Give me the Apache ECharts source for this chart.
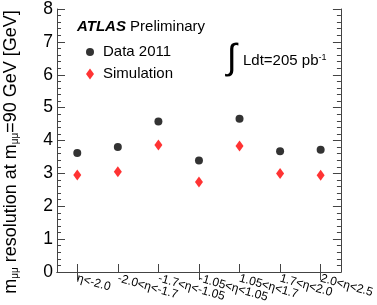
<!DOCTYPE html>
<html>
<head>
<meta charset="utf-8">
<script src="https://cdn.jsdelivr.net/npm/echarts@6/dist/echarts.min.js"></script>
<style>html,body{margin:0;padding:0;background:#fff}#c{width:377px;height:305px}</style>
</head>
<body>
<div id="c"></div>
<script>
const categories = ['η<-2.0', '-2.0<η<-1.7', '-1.7<η<-1.05', '-1.05<η<1.05', '1.05<η<1.7', '1.7<η<2.0', '2.0<η<2.5'];
const dataValues = [3.62, 3.80, 4.58, 3.39, 4.66, 3.67, 3.72];
const simValues = [2.95, 3.05, 3.86, 2.74, 3.83, 3.00, 2.94];
const yTicks = [0, 1, 2, 3, 4, 5, 6, 7, 8];

const FONT = 'Liberation Sans';
const chart = echarts.init(document.getElementById('c'), null, {renderer: 'canvas'});
const axisColor = '#444';
const baseY = {
  type: 'value', min: yTicks[0], max: yTicks[yTicks.length - 1], interval: 1,
  axisLine: {show: true, lineStyle: {color: axisColor, width: 1}},
  axisTick: {show: true, inside: true, length: 8, lineStyle: {color: axisColor}},
  minorTick: {show: true, splitNumber: 5, length: 4, lineStyle: {color: axisColor}},
  splitLine: {show: false}
};
const baseX = {
  type: 'category', data: categories, boundaryGap: true,
  axisLine: {show: true, lineStyle: {color: axisColor, width: 1}},
  axisTick: {show: true, inside: true, length: 8, alignWithLabel: true, lineStyle: {color: axisColor}},
  splitLine: {show: false}
};
chart.setOption({
  animation: false,
  textStyle: {fontFamily: FONT},
  grid: {left: 57, right: 34, top: 6, bottom: 33, containLabel: false},
  xAxis: [
    Object.assign({}, baseX, {position: 'bottom',
      axisLabel: {rotate: -16, margin: 6, fontSize: 12, color: '#000', fontFamily: FONT, interval: 0}}),
    Object.assign({}, baseX, {position: 'top', axisLabel: {show: false}})
  ],
  yAxis: [
    Object.assign({}, baseY, {position: 'left',
      axisLabel: {fontSize: 17.5, color: '#000', margin: 4, fontFamily: FONT}}),
    Object.assign({}, baseY, {position: 'right', axisLabel: {show: false}})
  ],
  legend: {
    orient: 'vertical', left: 81, top: 39, itemGap: 6,
    itemWidth: 8, itemHeight: 11,
    textStyle: {fontSize: 15, color: '#000', fontFamily: FONT, lineHeight: 16, padding: [0, 0, 0, 4]},
    data: [{name: 'Data 2011', icon: 'circle'}, {name: 'Simulation', icon: 'diamond'}]
  },
  series: [
    {name: 'Data 2011', type: 'scatter', data: dataValues, symbol: 'circle', symbolSize: 8,
      itemStyle: {color: '#000'}},
    {name: 'Simulation', type: 'scatter', data: simValues, symbol: 'diamond', symbolSize: [8, 11],
      itemStyle: {color: '#ff0000'}}
  ],
  graphic: [
    {type: 'text', x: 11, y: 152, rotation: Math.PI / 2,
      style: {text: 'm{s|μμ} resolution at m{s|μμ}=90 GeV [GeV]', fill: '#000',
        font: '18px "Liberation Sans"', align: 'center', verticalAlign: 'middle',
        rich: {s: {fontSize: 10, fontFamily: FONT, verticalAlign: 'bottom', padding: [6, 0, 0, 0]}}}},
    {type: 'text', x: 77, y: 27,
      style: {text: '{b|ATLAS} Preliminary', fill: '#000', font: '15px "Liberation Sans"',
        align: 'left', verticalAlign: 'middle',
        rich: {b: {fontSize: 15, fontWeight: 'bold', fontStyle: 'italic', fontFamily: FONT}}}},
    {type: 'text', x: 232, y: 59,
      style: {text: '∫', fill: '#000', font: '36px "Liberation Sans"', align: 'center', verticalAlign: 'middle'}},
    {type: 'text', x: 243, y: 61,
      style: {text: 'Ldt=205 pb{p|-1}', fill: '#000', font: '15px "Liberation Sans"',
        align: 'left', verticalAlign: 'middle',
        rich: {p: {fontSize: 9, fontFamily: FONT, verticalAlign: 'top'}}}}
  ]
});
</script>
</body>
</html>
